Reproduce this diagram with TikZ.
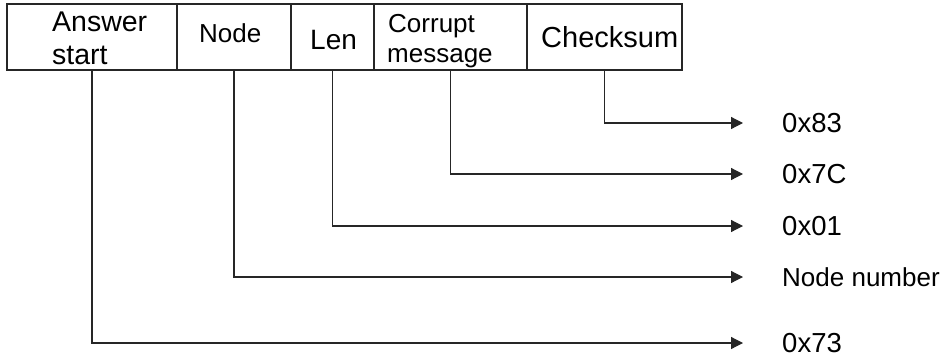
\documentclass[tikz,border=0pt]{standalone}
\usepackage{fontspec}
\setmainfont{Liberation Sans}
\usetikzlibrary{arrows.meta}
\begin{document}
\begin{tikzpicture}[x=1pt,y=-1pt,
  cell/.style={draw=black!85, line width=1.4pt, minimum height=66pt, inner sep=0pt, outer sep=0pt},
  conn/.style={draw=black!85, line width=1.2pt, -{Triangle[length=12pt,width=12pt]}},
  lbl/.style={anchor=base west, inner sep=0pt},
  outlbl/.style={anchor=west, inner sep=0pt, font=\fontsize{27.5}{32}\selectfont}]
\useasboundingbox (0,0) rectangle (944,361);
% cells
\node[cell, minimum width=170pt] (c1) at (92,37) {};
\node[cell, minimum width=114pt] (c2) at (234,37) {};
\node[cell, minimum width=83pt] (c3) at (332.5,37) {};
\node[cell, minimum width=153pt] (c4) at (450.5,37) {};
\node[cell, minimum width=155pt] (c5) at (604.5,37) {};
% cell texts
\node[lbl, font=\fontsize{28.5}{32}\selectfont] (t1a) at (52,32) {Answer};
\node[lbl, font=\fontsize{28.5}{32}\selectfont] (t1b) at (52,64) {start};
\node[lbl, font=\fontsize{26}{30}\selectfont] (t2) at (199,43) {Node};
\node[lbl, font=\fontsize{28}{30}\selectfont] (t3) at (310,49) {Len};
\node[lbl, font=\fontsize{26}{30}\selectfont] (t4a) at (388,33) {Corrupt};
\node[lbl, font=\fontsize{26}{30}\selectfont] (t4b) at (387,63) {message};
\node[lbl, font=\fontsize{29}{30}\selectfont] (t5) at (541,48) {Checksum};
% arrow ends
\coordinate (e5) at (743,123);
\coordinate (e4) at (743,174);
\coordinate (e3) at (743,226);
\coordinate (e2) at (743,277);
\coordinate (e1) at (743,343);
% output labels
\node[outlbl] (o5) at (782,123) {0x83};
\node[outlbl] (o4) at (782,174) {0x7C};
\node[outlbl] (o3) at (782,226) {0x01};
\node[outlbl, font=\fontsize{26}{30}\selectfont] (o2) at (782,277) {Node number};
\node[outlbl] (o1) at (782,343) {0x73};
% connectors
\draw[conn] (c5.south) |- (e5);
\draw[conn] (c4.south) |- (e4);
\draw[conn] (c3.south) |- (e3);
\draw[conn] (c2.south) |- (e2);
\draw[conn] (c1.south) |- (e1);
\end{tikzpicture}
\end{document}
